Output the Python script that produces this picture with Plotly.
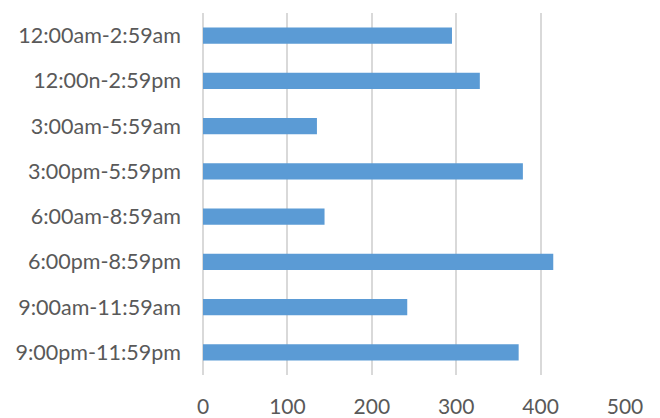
import plotly.graph_objects as go

categories = ["12:00am-2:59am", "12:00n-2:59pm", "3:00am-5:59am", "3:00pm-5:59pm",
              "6:00am-8:59am", "6:00pm-8:59pm", "9:00am-11:59am", "9:00pm-11:59pm"]
values = [295, 328, 135, 379, 144, 415, 242, 374]
x_ticks = [0, 100, 200, 300, 400, 500]

fig = go.Figure(go.Bar(
    y=categories, x=values, orientation="h",
    marker=dict(color="#5B9BD5", line=dict(width=0)),
    width=0.355,
))

font_fam = "Lato, 'Open Sans', sans-serif"
fig.update_layout(
    width=660, height=418,
    margin=dict(l=195, r=43, t=5, b=51, autoexpand=False),
    paper_bgcolor="white", plot_bgcolor="white",
    showlegend=False,
    font=dict(family=font_fam, size=20, color="#595959"),
    xaxis=dict(range=[0, 500], tickvals=x_ticks, showgrid=True, gridcolor="#D9D9D9",
               gridwidth=1.5, zeroline=True, zerolinecolor="#D9D9D9", zerolinewidth=1.5,
               showline=False, ticks="", ticklabelstandoff=17,
               tickfont=dict(size=21, color="#595959")),
    yaxis=dict(autorange="reversed", showgrid=False, showline=False, ticks="",
               ticklabelstandoff=21, tickfont=dict(size=21.5, color="#595959")),
)

fig.write_html("out.html")
